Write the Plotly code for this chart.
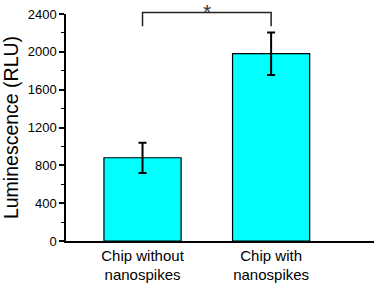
import plotly.graph_objects as go

categories = ["Chip without<br>nanospikes", "Chip with<br>nanospikes"]
values = [880, 1980]
errors = [160, 225]
y_ticks = [0, 400, 800, 1200, 1600, 2000, 2400]
sig_label = "*"
bracket_top = 2415
bracket_bottom = 2270

x_range = [-0.595, 1.80]
y_range = [0, 2400]

font_family = "Arial, 'Liberation Sans', sans-serif"

fig = go.Figure()
fig.add_trace(go.Bar(
    x=[0, 1], y=values, width=0.6,
    marker=dict(color="#00FFFF", line=dict(color="black", width=1.2)),
    error_y=dict(type="data", array=errors, visible=True, color="black", thickness=2, width=4),
))

def px(x):
    return (x - x_range[0]) / (x_range[1] - x_range[0])

def py(y):
    return (y - y_range[0]) / (y_range[1] - y_range[0])

fig.add_shape(type="path",
              path=f"M {px(0)} {py(bracket_bottom)} L {px(0)} {py(bracket_top)} L {px(1)} {py(bracket_top)} L {px(1)} {py(bracket_bottom)}",
              xref="paper", yref="paper", line=dict(color="#222222", width=1.5))
fig.add_annotation(x=px(0.5), y=py(bracket_top), xref="paper", yref="paper",
                   text=sig_label, showarrow=False, yanchor="middle", yshift=1,
                   font=dict(size=21, color="#333333", family=font_family))

fig.update_layout(
    width=383, height=284,
    margin=dict(l=66, r=9, t=14, b=43),
    plot_bgcolor="white", paper_bgcolor="white",
    showlegend=False,
    font=dict(family=font_family, color="black"),
    xaxis=dict(range=x_range, tickvals=[0, 1], ticktext=categories, showline=True,
               linecolor="black", linewidth=1.5, ticks="", showgrid=False, zeroline=False,
               tickfont=dict(size=15), automargin=False),
    yaxis=dict(range=y_range, tickvals=y_ticks, showline=True, linecolor="black", linewidth=1.5,
               ticks="outside", ticklen=5, tickwidth=1.5, tickcolor="black",
               minor=dict(ticks="outside", ticklen=3, tickwidth=1.2, tickcolor="black", dtick=200, showgrid=False),
               showgrid=False, zeroline=False, tickfont=dict(size=13), automargin=False,
               title=dict(text="Luminescence (RLU)", font=dict(size=19.5), standoff=5)),
)

fig.write_html("out.html", config={"displayModeBar": False},
               post_script="document.body.style.margin='0';")
